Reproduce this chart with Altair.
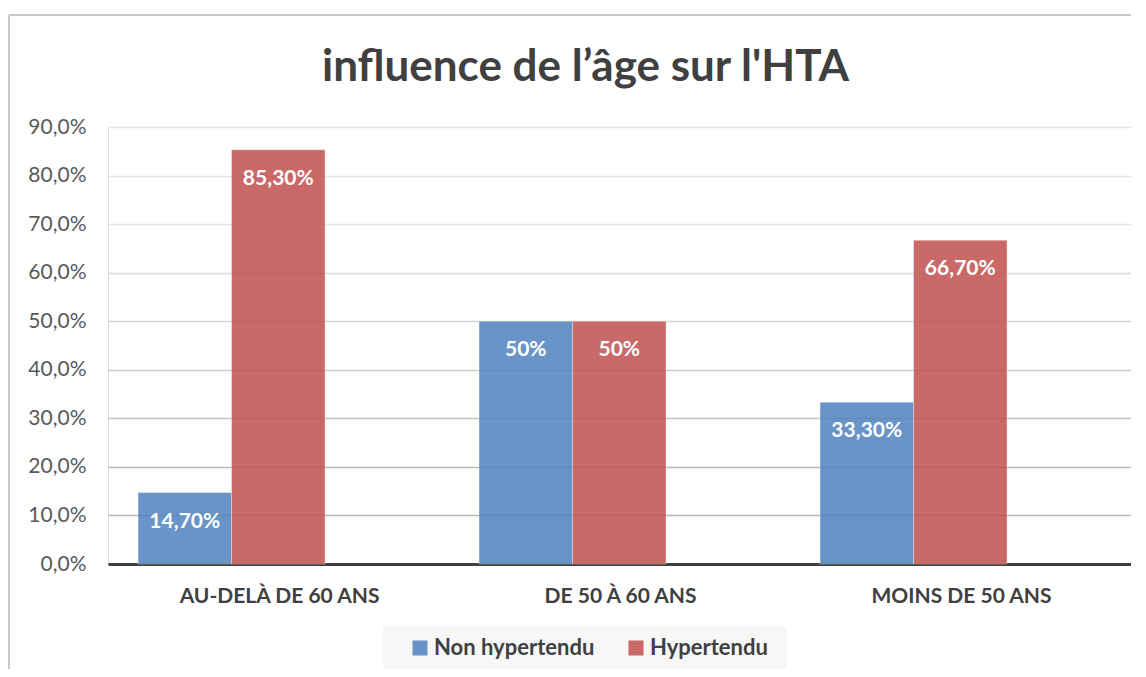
import altair as alt
import pandas as pd

categories = ["AU-DELÀ DE 60 ANS", "DE 50 À 60 ANS", "MOINS DE 50 ANS"]
series = ["Non hypertendu", "Hypertendu"]
non_hyp = [0.147, 0.50, 0.333]
hyp = [0.853, 0.50, 0.667]
non_hyp_labels = ["14,70%", "50%", "33,30%"]
hyp_labels = ["85,30%", "50%", "66,70%"]
colors = ["#4f81bd", "#c0504d"]

rows = []
for i, c in enumerate(categories):
    rows.append({"cat": c, "serie": series[0], "val": non_hyp[i], "lab": non_hyp_labels[i]})
    rows.append({"cat": c, "serie": series[1], "val": hyp[i], "lab": hyp_labels[i]})
df = pd.DataFrame(rows)

FONT = "Lato"
W, H = 1023, 437

grid_expr = ("datum.value <= 0.05 ? '#b0b0b0' : datum.value <= 0.15 ? '#b4b4b4' : "
             "datum.value <= 0.25 ? '#b8b8b8' : datum.value <= 0.35 ? '#c2c2c2' : "
             "datum.value <= 0.45 ? '#cccccc' : datum.value <= 0.55 ? '#d6d6d6' : "
             "datum.value <= 0.65 ? '#dcdcdc' : '#e4e4e4'")

x_scale = alt.Scale(paddingInner=0.4516, paddingOuter=0.2258, align=0.195)
x_enc = alt.X("cat:N", sort=categories, title=None, scale=x_scale,
              axis=alt.Axis(labelAngle=0, ticks=False, labelPadding=21, labelFontSize=21,
                            labelFontWeight="bold", labelColor="#404040", labelFont=FONT,
                            labelOffset=48, labelLimit=0, domainColor="#404040", domainWidth=3,
                            grid=False))
xo_enc = alt.XOffset("serie:N", sort=series, scale=alt.Scale(paddingInner=0.0, paddingOuter=0.0))
y_enc = alt.Y("val:Q", title=None,
              scale=alt.Scale(domain=[0, 0.9], nice=False),
              axis=alt.Axis(format=".1%", values=[i / 10 for i in range(10)], ticks=False,
                            domain=False, labelPadding=22, labelFontSize=21, labelColor="#595959",
                            labelFont=FONT, gridColor=alt.ExprRef(grid_expr), gridWidth=1.5))

base = alt.Chart(df)

legend_box = alt.Chart(df).mark_rect(color="#f7f7f7").encode(
    x=alt.value(275), x2=alt.value(679), y=alt.value(499), y2=alt.value(543))

bars = base.mark_bar(fillOpacity=0.85, strokeWidth=1, strokeOpacity=0.35).encode(
    x=x_enc, xOffset=xo_enc, y=y_enc,
    color=alt.Color("serie:N", sort=series, title=None,
                    scale=alt.Scale(domain=series, range=colors),
                    legend=alt.Legend(orient="none", legendX=301, legendY=510, direction="horizontal",
                                      symbolType="square", symbolSize=225, symbolOpacity=0.85,
                                      labelFontSize=22, labelFontWeight="bold", labelColor="#404040",
                                      labelFont=FONT, labelLimit=0, labelOffset=3, padding=0,
                                      columnPadding=30, symbolStrokeWidth=0)),
    stroke=alt.Stroke("serie:N", sort=series, scale=alt.Scale(domain=series, range=["#ffffff", "#ffffff"]), legend=None),
)

labels = base.mark_text(dy=29, baseline="middle", align="center", color="white",
                        fontWeight="bold", fontSize=21, font=FONT).encode(
    x=alt.X("cat:N", sort=categories, scale=x_scale), xOffset=alt.XOffset("serie:N", sort=series),
    y="val:Q", text="lab:N")

frame_left = alt.Chart(df).mark_rule(color="#c8c8c8", strokeWidth=2).encode(
    x=alt.value(-99), y=alt.value(-112), y2=alt.value(560))
frame_top = alt.Chart(df).mark_rule(color="#c8c8c8", strokeWidth=2).encode(
    x=alt.value(-99), x2=alt.value(W), y=alt.value(-112))

chart = alt.layer(legend_box, bars, labels, frame_left, frame_top).properties(
    width=W, height=H,
    autosize=alt.AutoSizeParams(type="none"),
    padding={"left": 100, "top": 119, "right": 0, "bottom": 105},
    title=alt.TitleParams("influence de l’âge sur l'HTA", fontSize=44, fontWeight="bold",
                          color="#404040", font=FONT, anchor="middle", dx=-34, offset=-76),
).configure_view(stroke=None).configure(
    locale={"number": {"decimal": ",", "thousands": " ", "grouping": [3], "currency": ["", " €"]}}
)

chart.save("out.html", embed_options={"renderer": "svg", "actions": False})
